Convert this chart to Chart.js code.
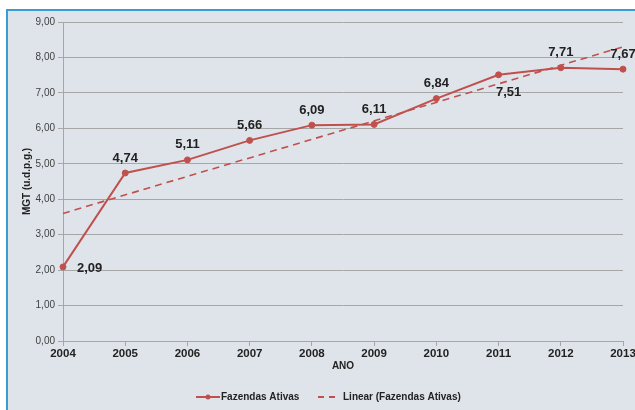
<!DOCTYPE html>
<html lang="pt">
<head>
    <meta charset="UTF-8">
    <title>MGT - Fazendas Ativas</title>
    <script src="https://cdn.jsdelivr.net/npm/chart.js"></script>
    <style>
        html, body { margin: 0; padding: 0; background: #fff; overflow: hidden; }
        .quadro {
            position: absolute;
            left: 6px;
            top: 9px;
            width: 627px;
            height: 399px;
            border-top: 2px solid #3a9bd5;
            border-left: 2px solid #3a9bd5;
            background: #dfe4ea;
        }
        canvas { display: block; }
    </style>
</head>
<body>
    <div class="quadro">
        <canvas id="mgtChart" width="627" height="399"></canvas>
    </div>

    <script>
        // dados
        const anos = ['2004', '2005', '2006', '2007', '2008', '2009', '2010', '2011', '2012', '2013'];
        const fazendasAtivas = [2.09, 4.74, 5.11, 5.66, 6.09, 6.11, 6.84, 7.51, 7.71, 7.67];
        // tendência linear: só os extremos (2004 e 2013)
        const linear = [3.6, null, null, null, null, null, null, null, null, 8.3];

        const vermelho = '#c0504d';
        const fmt = v => v.toFixed(2).replace('.', ',');

        // onde fica cada rótulo em relação ao ponto
        const posRotulo = ['right', 'above', 'above', 'above', 'above', 'above', 'above', 'below', 'above', 'above'];

        const rotulos = {
            id: 'rotulos',
            afterDatasetsDraw(chart) {
                const ctx = chart.ctx;
                const meta = chart.getDatasetMeta(0);
                ctx.save();
                ctx.font = 'bold 13px "Liberation Sans", Arial, sans-serif';
                ctx.fillStyle = '#222';
                ctx.textBaseline = 'middle';
                meta.data.forEach((pt, i) => {
                    const txt = fmt(fazendasAtivas[i]);
                    if (posRotulo[i] === 'right') {
                        ctx.textAlign = 'left';
                        ctx.fillText(txt, pt.x + 14, pt.y + 2);
                    } else if (posRotulo[i] === 'below') {
                        ctx.textAlign = 'center';
                        ctx.fillText(txt, pt.x + 10, pt.y + 18);
                    } else {
                        ctx.textAlign = 'center';
                        ctx.fillText(txt, pt.x, pt.y - 15);
                    }
                });
                ctx.restore();
            }
        };

        const legenda = {
            id: 'legenda',
            afterDraw(chart) {
                const ctx = chart.ctx;
                const y = 386;
                ctx.save();
                ctx.strokeStyle = vermelho;
                ctx.fillStyle = vermelho;
                ctx.lineWidth = 2;
                ctx.beginPath();
                ctx.moveTo(188, y);
                ctx.lineTo(212, y);
                ctx.stroke();
                ctx.beginPath();
                ctx.arc(200, y, 2.5, 0, Math.PI * 2);
                ctx.fill();

                ctx.setLineDash([6, 5]);
                ctx.beginPath();
                ctx.moveTo(310, y);
                ctx.lineTo(328, y);
                ctx.stroke();
                ctx.setLineDash([]);

                ctx.font = 'bold 10px "Liberation Sans", Arial, sans-serif';
                ctx.fillStyle = '#222';
                ctx.textBaseline = 'middle';
                ctx.textAlign = 'left';
                ctx.fillText('Fazendas Ativas', 213, y);
                ctx.fillText('Linear (Fazendas Ativas)', 335, y);
                ctx.restore();
            }
        };

        const ctx = document.getElementById('mgtChart').getContext('2d');
        const mgtChart = new Chart(ctx, {
            type: 'line',
            data: {
                labels: anos,
                datasets: [
                    {
                        label: 'Fazendas Ativas',
                        data: fazendasAtivas,
                        borderColor: vermelho,
                        backgroundColor: vermelho,
                        borderWidth: 2,
                        pointRadius: 3,
                        pointBorderWidth: 1,
                        tension: 0
                    },
                    {
                        label: 'Linear (Fazendas Ativas)',
                        data: linear,
                        spanGaps: true,
                        borderColor: vermelho,
                        borderWidth: 1.6,
                        borderDash: [7, 5],
                        pointRadius: 0,
                        tension: 0
                    }
                ]
            },
            options: {
                responsive: false,
                animation: false,
                clip: false,
                layout: { padding: { top: 11, right: 12, bottom: 37, left: 0 } },
                plugins: {
                    legend: { display: false },
                    tooltip: { enabled: false }
                },
                scales: {
                    x: {
                        offset: false,
                        afterFit: s => { s.height = 32; s.paddingRight = 0; s.paddingLeft = 0; },
                        grid: { drawOnChartArea: false, drawTicks: true, tickLength: 5, color: '#a6a6a6' },
                        border: { color: '#a6a6a6' },
                        ticks: {
                            padding: 1,
                            maxRotation: 0,
                            color: '#222',
                            font: { family: '"Liberation Sans", Arial, sans-serif', size: 11.5, weight: 'bold' }
                        },
                        title: {
                            display: true,
                            text: 'ANO',
                            color: '#222',
                            padding: { top: 0, bottom: 1 },
                            font: { family: '"Liberation Sans", Arial, sans-serif', size: 10, weight: 'bold' }
                        }
                    },
                    y: {
                        min: 0,
                        max: 9,
                        afterFit: s => { s.width = 55; },
                        grid: { color: '#a6a6a6', tickLength: 5 },
                        border: { color: '#a6a6a6' },
                        ticks: {
                            stepSize: 1,
                            padding: 3,
                            color: '#404040',
                            font: { family: '"Liberation Sans", Arial, sans-serif', size: 10 },
                            callback: v => fmt(v)
                        },
                        title: {
                            display: true,
                            text: 'MGT (u.d.p.g.)',
                            color: '#222',
                            padding: { top: 13, bottom: 0 },
                            font: { family: '"Liberation Sans", Arial, sans-serif', size: 10, weight: 'bold' }
                        }
                    }
                }
            },
            plugins: [rotulos, legenda]
        });
    </script>
</body>
</html>
